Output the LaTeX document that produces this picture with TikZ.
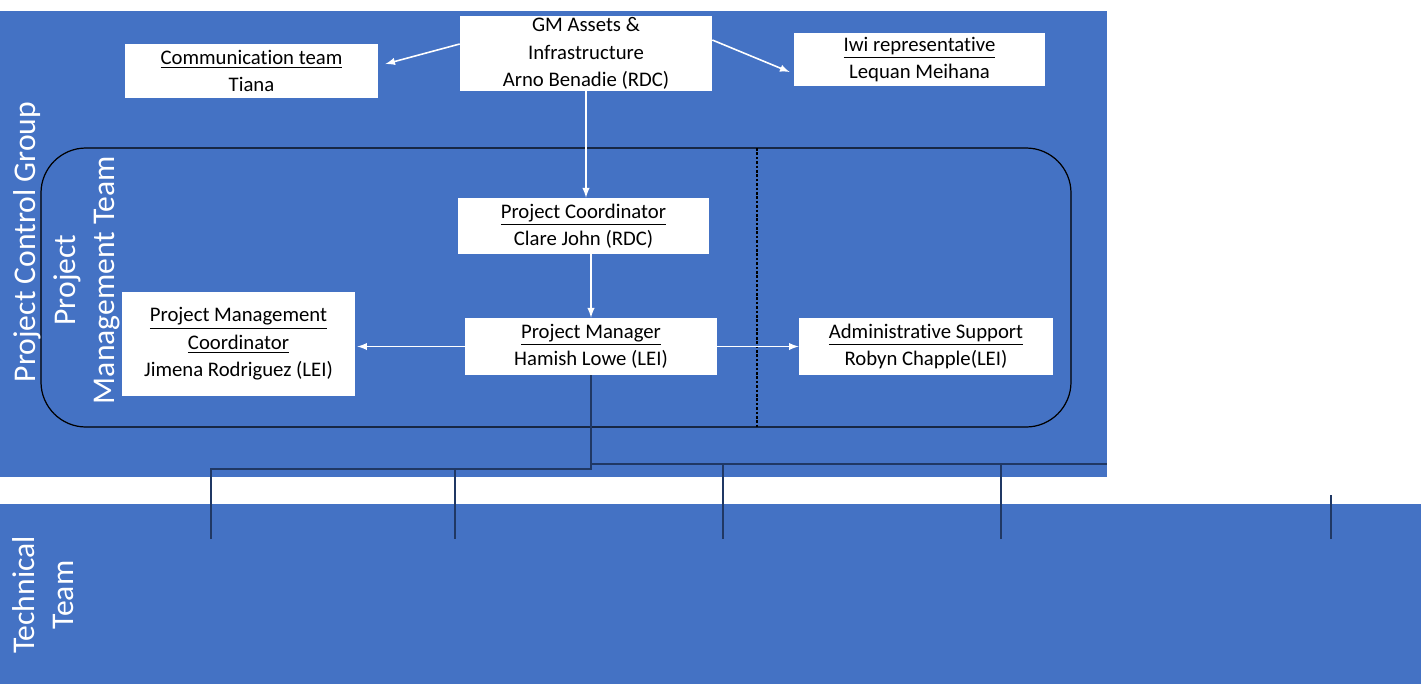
\documentclass[tikz,border=0pt]{standalone}
\usepackage{fontspec}
\setmainfont{Carlito}[Ligatures={NoCommon}]
\usepackage{tikz}
\usetikzlibrary{arrows}
\definecolor{panel}{HTML}{4472C4}
\definecolor{navy}{HTML}{203864}
\newcommand{\boxfont}{\fontsize{11.8}{15.6}\selectfont}
\newcommand{\bandfont}{\fontsize{18}{22}\selectfont}
\tikzstyle{role} = [rectangle, fill=white, inner sep=0pt, align=center, text=black, font=\boxfont]
\tikzstyle{band} = [text=white, rotate=90, align=center, inner sep=0pt, font=\bandfont]
\tikzstyle{arrow} = [white, line width=0.9pt, ->, >=latex]
\tikzstyle{tree} = [navy, line width=1pt]

\begin{document}
\begin{tikzpicture}[x=0.02cm, y=-0.02cm]
\useasboundingbox (0,0) rectangle (1421,684);
% panels
\fill[panel] (0,11) rectangle (1107,477);
\fill[panel] (0,504) rectangle (1421,684);
\draw[black, line width=0.7pt, rounded corners=0.9cm] (41,148) rectangle (1071,427);
\draw[black, line width=0.6pt, dash pattern=on 1.5pt off 1pt] (757,148) -- (757,427);
	\node (pcg) [band] at (27,242) {Project Control Group};
	\node (pmt) [band] at (87,280) {Project\\Management Team};
	\node (tech) [band] at (43,595) {Technical\\Team};
	\node (gm) [role, minimum width=5.04cm, minimum height=1.5cm] at (586,53.5) {GM Assets \&\\Infrastructure\\Arno Benadie (RDC)};
	\node (comm) [role, minimum width=5.06cm, minimum height=1.08cm] at (251.5,71) {\underline{Communication team}\\Tiana};
	\node (iwi) [role, minimum width=5.02cm, minimum height=1.06cm] at (919.5,59.5) {\underline{Iwi representative}\\Lequan Meihana};
	\node (pc) [role, minimum width=5.02cm, minimum height=1.12cm] at (583.5,226) {\underline{Project Coordinator}\\Clare John (RDC)};
	\node (pmc) [role, minimum width=4.66cm, minimum height=2.08cm] at (238.5,344) {\underline{Project Management}\\\underline{Coordinator}\\Jimena Rodriguez (LEI)};
	\node (pm) [role, minimum width=5.04cm, minimum height=1.14cm] at (591,346.5) {\underline{Project Manager}\\Hamish Lowe (LEI)};
	\node (adm) [role, minimum width=5.08cm, minimum height=1.14cm] at (926,346.5) {\underline{Administrative Support}\\Robyn Chapple(LEI)};
\draw [arrow] ([yshift=0.19cm]gm.west) -- ([xshift=0.14cm,yshift=0.14cm]comm.east);
\draw [arrow] ([yshift=0.27cm]gm.east) -- ([xshift=-0.08cm,yshift=-0.25cm]iwi.west);
\draw [arrow] (gm.south) -- (gm.south |- pc.north);
\draw [arrow] (pm.north |- pc.south) -- (pm.north);
\draw [arrow] (pm.west) -- ([xshift=0.04cm]pm.west -| pmc.east);
\draw [arrow] (pm.east) -- (adm.west);
% links down to the technical team
\coordinate (t1) at (211,539);
\coordinate (t2) at (455,539);
\coordinate (t3) at (723,539);
\coordinate (t4) at (1001,539);
\coordinate (t5) at (1331,539);
\coordinate (t5top) at (1331,495);
\draw [tree] (pm.south) -- (591,469) -| (t1);
\draw [tree] (591,469) -| (t2);
\draw [tree] (591,464) -- (1107,464);
\draw [tree] (591,464) -| (t3);
\draw [tree] (591,464) -| (t4);
\draw [tree] (t5top) -- (t5);
\end{tikzpicture}
\end{document}
